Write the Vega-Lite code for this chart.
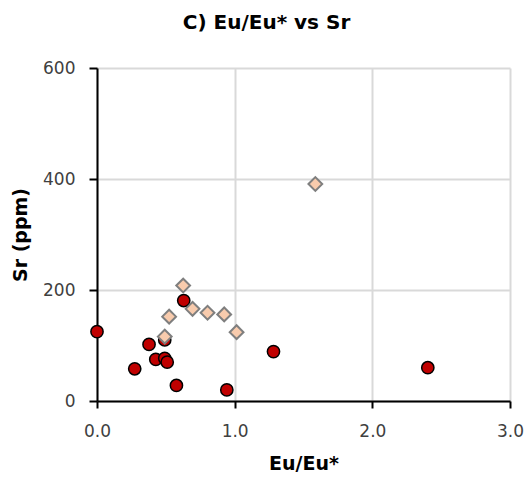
{
  "$schema": "https://vega.github.io/schema/vega-lite/v6.json",
  "width": 413,
  "height": 333,
  "autosize": {"type": "none"},
  "padding": {"left": 97, "top": 68, "right": 19, "bottom": 82},
  "background": "white",
  "title": {"text": "C) Eu/Eu* vs Sr", "font": "DejaVu Sans", "fontSize": 20, "fontWeight": "bold", "color": "#000000", "anchor": "middle", "dx": -37, "offset": 26},
  "config": {"view": {"stroke": null}},
  "data": {"values": [
    {"eu": 0.0, "sr": 125, "group": "A"},
    {"eu": 0.274, "sr": 58, "group": "A"},
    {"eu": 0.378, "sr": 102, "group": "A"},
    {"eu": 0.427, "sr": 75, "group": "A"},
    {"eu": 0.492, "sr": 110, "group": "A"},
    {"eu": 0.492, "sr": 77, "group": "A"},
    {"eu": 0.51, "sr": 70, "group": "A"},
    {"eu": 0.63, "sr": 181, "group": "A"},
    {"eu": 0.577, "sr": 28, "group": "A"},
    {"eu": 0.943, "sr": 20, "group": "A"},
    {"eu": 1.282, "sr": 89, "group": "A"},
    {"eu": 2.403, "sr": 60, "group": "A"},
    {"eu": 0.626, "sr": 208, "group": "B"},
    {"eu": 0.524, "sr": 152, "group": "B"},
    {"eu": 0.492, "sr": 116, "group": "B"},
    {"eu": 0.694, "sr": 166, "group": "B"},
    {"eu": 0.803, "sr": 159, "group": "B"},
    {"eu": 0.924, "sr": 156, "group": "B"},
    {"eu": 1.014, "sr": 124, "group": "B"},
    {"eu": 1.586, "sr": 391, "group": "B"}
  ]},
  "encoding": {
    "x": {"field": "eu", "type": "quantitative", "title": "Eu/Eu*",
      "scale": {"domain": [0, 3], "nice": false, "zero": false},
      "axis": {"values": [0, 1, 2, 3], "format": ".1f", "grid": true, "gridColor": "#d9d9d9", "gridWidth": 2,
        "domainColor": "#000000", "domainWidth": 2, "tickColor": "#000000", "tickWidth": 2, "tickSize": 7,
        "labelFlush": false, "labelOverlap": false,
        "labelFont": "DejaVu Sans", "labelFontSize": 17, "labelColor": "#404040", "labelPadding": 15,
        "titleFont": "DejaVu Sans", "titleFontSize": 19, "titleFontWeight": "bold", "titleColor": "#000000", "titlePadding": 15}},
    "y": {"field": "sr", "type": "quantitative", "title": "Sr (ppm)",
      "scale": {"domain": [0, 600], "nice": false},
      "axis": {"values": [0, 200, 400, 600], "grid": true, "gridColor": "#d9d9d9", "gridWidth": 2,
        "domainColor": "#000000", "domainWidth": 2, "tickColor": "#000000", "tickWidth": 2, "tickSize": 8,
        "labelFlush": false, "labelOverlap": false,
        "labelFont": "DejaVu Sans", "labelFontSize": 17, "labelColor": "#404040", "labelPadding": 14,
        "titleFont": "DejaVu Sans", "titleFontSize": 19, "titleFontWeight": "bold", "titleColor": "#000000", "titlePadding": 12}}
  },
  "layer": [
    {"transform": [{"filter": "datum.group == 'A'"}],
     "mark": {"type": "point", "shape": "circle", "filled": true, "fill": "#C00000", "stroke": "#000000", "strokeWidth": 1.5, "size": 150, "opacity": 1}},
    {"transform": [{"filter": "datum.group == 'B'"}],
     "mark": {"type": "point", "shape": "diamond", "filled": true, "fill": "#F8CBAD", "stroke": "#7F7F7F", "strokeWidth": 2, "size": 190, "opacity": 1}}
  ]
}
